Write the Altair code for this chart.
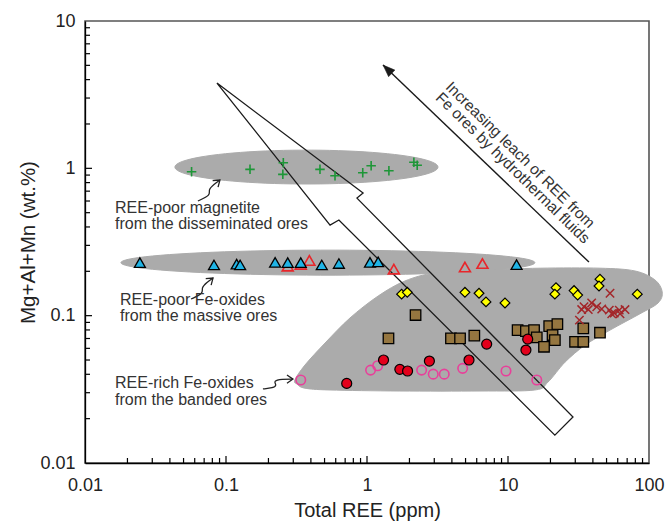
import altair as alt
import numpy as np
import pandas as pd

# ---------------- data ----------------
# REE-poor magnetite (disseminated ores) : green plus
mag_ree = [0.057, 0.148, 0.255, 0.253, 0.464, 0.593, 0.933, 1.07, 1.43, 2.15, 2.27]
mag_y = [0.948, 0.984, 1.09, 0.91, 0.984, 0.891, 0.933, 1.04, 0.963, 1.10, 1.05]

# REE-poor Fe-oxides (massive ores) : cyan filled triangles
mas_cyan_ree = [0.0245, 0.0822, 0.119, 0.126, 0.223, 0.274, 0.339, 0.478, 0.632, 1.05, 1.20, 11.5]
mas_cyan_y = [0.229, 0.221, 0.224, 0.221, 0.230, 0.229, 0.229, 0.221, 0.226, 0.230, 0.232, 0.222]
# REE-poor Fe-oxides (massive ores) : red open triangles
mas_red_ree = [0.274, 0.339, 0.390, 1.55, 4.95, 6.59]
mas_red_y = [0.217, 0.223, 0.237, 0.207, 0.214, 0.226]

# REE-rich Fe-oxides (banded ores)
yel_ree = [1.76, 1.93, 4.95, 6.23, 6.98, 9.52, 21.9, 21.5, 29.4, 31.2, 44.9, 44.2, 82.6]
yel_y = [0.140, 0.144, 0.144, 0.142, 0.124, 0.122, 0.155, 0.140, 0.148, 0.138, 0.177, 0.159, 0.140]

xr_ree = [52.9, 34.6, 39.2, 42.6, 37.1, 46.2, 33.3, 52.3, 56.7, 61.5, 67.6, 62.3, 54.4, 32.1]
xr_y = [0.142, 0.115, 0.122, 0.115, 0.110, 0.111, 0.110, 0.109, 0.104, 0.109, 0.110, 0.103, 0.103, 0.0933]

sq_ree = [2.21, 1.42, 3.94, 4.57, 5.77, 11.7, 13.4, 15.3, 16.0, 19.6, 22.4, 20.7, 21.5, 18.0, 34.2, 44.9, 29.9, 34.2]
sq_y = [0.101, 0.0701, 0.0701, 0.0701, 0.0731, 0.0798, 0.0786, 0.0798, 0.0713, 0.0850, 0.0877, 0.0739,
        0.0683, 0.0615, 0.0820, 0.0766, 0.0665, 0.0665]

rc_ree = [0.718, 1.31, 1.71, 1.94, 2.77, 5.29, 7.06, 13.8, 13.4]
rc_y = [0.0347, 0.0500, 0.0432, 0.0421, 0.0492, 0.0500, 0.0641, 0.0693, 0.0584]

pc_ree = [0.339, 1.06, 1.19, 2.44, 2.95, 3.53, 4.77, 9.68, 16.0]
pc_y = [0.0366, 0.0427, 0.0457, 0.0427, 0.0401, 0.0401, 0.0439, 0.0421, 0.0366]

# grey fields: ellipse centres (data units) and half-axes (decades)
mag_field = dict(cx=0.372, cy=1.02, ax=0.933, by=0.115)
mas_field = dict(cx=0.528, cy=0.229, ax=1.468, by=0.085)
# banded-ore field outline
band_x = [0.308, 0.363, 0.504, 0.757, 1.20, 1.86, 3.03, 6.33, 16.9, 44.9, 79.6, 110, 124, 116, 86.3,
          52.9, 35.2, 25.4, 19.2, 15.5, 6.33, 1.71, 0.547, 0.363, 0.319]
band_y = [0.0366, 0.0462, 0.0652, 0.0964, 0.136, 0.172, 0.195, 0.204, 0.210, 0.210, 0.201, 0.175, 0.145,
          0.122, 0.103, 0.0798, 0.0631, 0.0484, 0.0354, 0.0313, 0.0308, 0.0308, 0.0313, 0.0322, 0.0343]

# large hollow arrow outline
big_arrow_x = [0.0863, 0.938, 0.849, 28.9, 21.5, 0.632, 0.547]
big_arrow_y = [3.79, 0.679, 0.628, 0.0205, 0.01546, 0.446, 0.412]

# thin "leach" arrow (tail -> tip)
leach_x = [37.5, 1.30]
leach_y = [0.231, 5.02]

# small squiggle pointers
sq1_x = [0.0632, 0.0784, 0.0745, 0.0822, 0.0906]
sq1_y = [0.600, 0.659, 0.713, 0.782, 0.833]
sq2_x = [0.0565, 0.0698, 0.0665, 0.0733, 0.0809]
sq2_y = [0.1297, 0.1423, 0.1539, 0.169, 0.180]
sq3_x = [0.1828, 0.2153, 0.2302, 0.2153, 0.2494, 0.2985]
sq3_y = [0.0318, 0.0323, 0.0338, 0.0360, 0.0371, 0.0371]

# annotation texts
lab_text = ["REE-poor magnetite", "from the disseminated ores",
            "REE-poor Fe-oxides", "from the massive ores",
            "REE-rich Fe-oxides", "from the banded ores"]
lab_x = [0.01633, 0.01633, 0.0177, 0.0177, 0.01633, 0.01633]
lab_y = [0.538, 0.419, 0.1276, 0.0993, 0.0347, 0.0267]

rot_text = ["Increasing leach of REE from", "Fe ores by hydrothermal fluids"]
rot_x = [12.2, 10.8]
rot_y = [1.231, 1.005]

x_ticks_major = [0.01, 0.1, 1, 10, 100]
y_ticks_major = [0.01, 0.1, 1, 10]
minor_mult = [2, 3, 4, 5, 6, 7, 8, 9]

# ---------------- chart ----------------
FONT = "Liberation Sans"
GREY = "#ababab"
TXT = "#333333"
W, H = 564, 442

x_axis = alt.Axis(values=x_ticks_major, format="~g", ticks=False, grid=False,
                  labelFontSize=18, labelPadding=13, labelFont=FONT, labelColor="#222222",
                  labelFlush=False, labelOverlap=False, domainColor="#000000", domainWidth=1.3,
                  title="Total REE (ppm)", titleFont=FONT, titleFontSize=20, titleFontWeight="normal",
                  titleColor="#222222", titleX=W / 2, titleY=47, titleAlign="center",
                  titleBaseline="middle")
y_axis = alt.Axis(values=y_ticks_major, format="~g", ticks=False, grid=False,
                  labelFontSize=18, labelPadding=10, labelFont=FONT, labelColor="#222222",
                  labelFlush=False, labelOverlap=False, domainColor="#000000", domainWidth=1.3,
                  title="Mg+Al+Mn (wt.%)", titleFont=FONT, titleFontSize=20.5, titleFontWeight="normal",
                  titleColor="#222222", titleX=-57, titleY=H / 2, titleAngle=270, titleAlign="center",
                  titleBaseline="middle")

XS = alt.Scale(type="log", domain=[0.01, 100], nice=False)
YS = alt.Scale(type="log", domain=[0.01, 10], nice=False)


def X():
    return alt.X("x:Q", scale=XS, axis=x_axis)


def Y():
    return alt.Y("y:Q", scale=YS, axis=y_axis)


def pts(xs, ys):
    return pd.DataFrame({"x": xs, "y": ys})


def path_df(xs, ys):
    return pd.DataFrame({"x": xs, "y": ys, "o": list(range(len(xs)))})


def ellipse_df(f):
    t = np.linspace(0, 2 * np.pi, 90, endpoint=False)
    lx = np.log10(f["cx"]) + f["ax"] * np.cos(t)
    ly = np.log10(f["cy"]) + f["by"] * np.sin(t)
    return path_df(list(10 ** lx), list(10 ** ly))


def poly(df, interp, **kw):
    return alt.Chart(df).mark_line(interpolate=interp, **kw).encode(
        x=X(), y=Y(), order=alt.Order("o:Q"))


layers = []
# grey fields
layers.append(poly(ellipse_df(mag_field), "linear-closed", fill=GREY, stroke=GREY, strokeWidth=1))
layers.append(poly(ellipse_df(mas_field), "linear-closed", fill=GREY, stroke=GREY, strokeWidth=1))
layers.append(poly(path_df(band_x, band_y), "cardinal-closed", fill=GREY, stroke=GREY, strokeWidth=1))

# big hollow arrow
layers.append(poly(path_df(big_arrow_x, big_arrow_y), "linear-closed", stroke="#1a1a1a", strokeWidth=1.3))

# thin leach arrow
layers.append(poly(path_df(leach_x, leach_y), "linear", stroke="#1a1a1a", strokeWidth=1.4))
layers.append(alt.Chart(pts(leach_x[1:], leach_y[1:])).mark_point(
    shape="M0,0L-0.38,1L0.38,1Z", size=576, filled=True, fill="#1a1a1a", stroke="#1a1a1a",
    strokeWidth=0.5, opacity=1, angle=313.7).encode(x=X(), y=Y()))

# squiggle pointers
for sx, sy, ang in [(sq1_x, sq1_y, 50), (sq2_x, sq2_y, 50), (sq3_x, sq3_y, 90)]:
    layers.append(poly(path_df(sx, sy), "basis", stroke="#222", strokeWidth=1.3))
    layers.append(alt.Chart(pts(sx[-1:], sy[-1:])).mark_point(
        shape="M-0.7,1L0,0L0.7,1", size=144, filled=False, stroke="#222", strokeWidth=1.3,
        opacity=1, angle=ang).encode(x=X(), y=Y()))

# data points
plus_path = "M-1,0L1,0M0,-1L0,1"
x_path = "M-1,-1L1,1M1,-1L-1,1"
layers.append(alt.Chart(pts(mag_ree, mag_y)).mark_point(
    shape=plus_path, size=90, filled=False, stroke="#1e9638", strokeWidth=1.6, opacity=1).encode(x=X(), y=Y()))
layers.append(alt.Chart(pts(mas_red_ree, mas_red_y)).mark_point(
    shape="triangle-up", size=120, filled=False, stroke="#e8262b", strokeWidth=1.6, opacity=1).encode(x=X(), y=Y()))
layers.append(alt.Chart(pts(mas_cyan_ree, mas_cyan_y)).mark_point(
    shape="triangle-up", size=120, filled=True, fill="#1fb4e6", stroke="#000", strokeWidth=1.3,
    opacity=1).encode(x=X(), y=Y()))
layers.append(alt.Chart(pts(pc_ree, pc_y)).mark_point(
    shape="circle", size=90, filled=False, stroke="#e8409a", strokeWidth=1.6, opacity=1).encode(x=X(), y=Y()))
layers.append(alt.Chart(pts(sq_ree, sq_y)).mark_point(
    shape="square", size=110, filled=True, fill="#957640", stroke="#000", strokeWidth=1.3,
    opacity=1).encode(x=X(), y=Y()))
layers.append(alt.Chart(pts(rc_ree, rc_y)).mark_point(
    shape="circle", size=100, filled=True, fill="#e3001b", stroke="#000", strokeWidth=1.2,
    opacity=1).encode(x=X(), y=Y()))
layers.append(alt.Chart(pts(yel_ree, yel_y)).mark_point(
    shape="diamond", size=95, filled=True, fill="#ffff00", stroke="#000", strokeWidth=1.2,
    opacity=1).encode(x=X(), y=Y()))
layers.append(alt.Chart(pts(xr_ree, xr_y)).mark_point(
    shape=x_path, size=70, filled=False, stroke="#a3262a", strokeWidth=1.5, opacity=1).encode(x=X(), y=Y()))

# annotation text
lab_df = pd.DataFrame({"x": lab_x, "y": lab_y, "t": lab_text})
layers.append(alt.Chart(lab_df).mark_text(
    align="left", baseline="middle", font=FONT, fontSize=16, color=TXT).encode(
    x=X(), y=Y(), text="t:N"))
rot_df = pd.DataFrame({"x": rot_x, "y": rot_y, "t": rot_text})
layers.append(alt.Chart(rot_df).mark_text(
    align="center", baseline="middle", font=FONT, fontSize=15.5, color=TXT, angle=44.4).encode(
    x=X(), y=Y(), text="t:N"))

# inner axis ticks (rules from the axis line into the plot)
xt_minor = [d * m for d in x_ticks_major[:-1] for m in minor_mult]
yt_minor = [d * m for d in y_ticks_major[:-1] for m in minor_mult]
xt_major = x_ticks_major[1:-1]
yt_major = y_ticks_major[1:-1]
for vals, L in [(xt_minor, 5), (xt_major, 7)]:
    layers.append(alt.Chart(pd.DataFrame({"x": vals})).mark_rule(color="#000000", strokeWidth=1.2).encode(
        x=X(), y=alt.value(H), y2=alt.value(H - L)))
for vals, L in [(yt_minor, 5), (yt_major, 7)]:
    layers.append(alt.Chart(pd.DataFrame({"y": vals})).mark_rule(color="#000000", strokeWidth=1.2).encode(
        y=Y(), x=alt.value(0), x2=alt.value(L)))

chart = alt.layer(*layers).properties(
    width=W, height=H,
    autosize=alt.AutoSizeParams(type="none"),
    padding={"left": 85, "top": 21, "right": 21, "bottom": 61},
    background="white",
).configure_view(stroke="#555555", strokeWidth=1.6)

chart.save("out.html", embed_options={"renderer": "svg", "actions": False})
